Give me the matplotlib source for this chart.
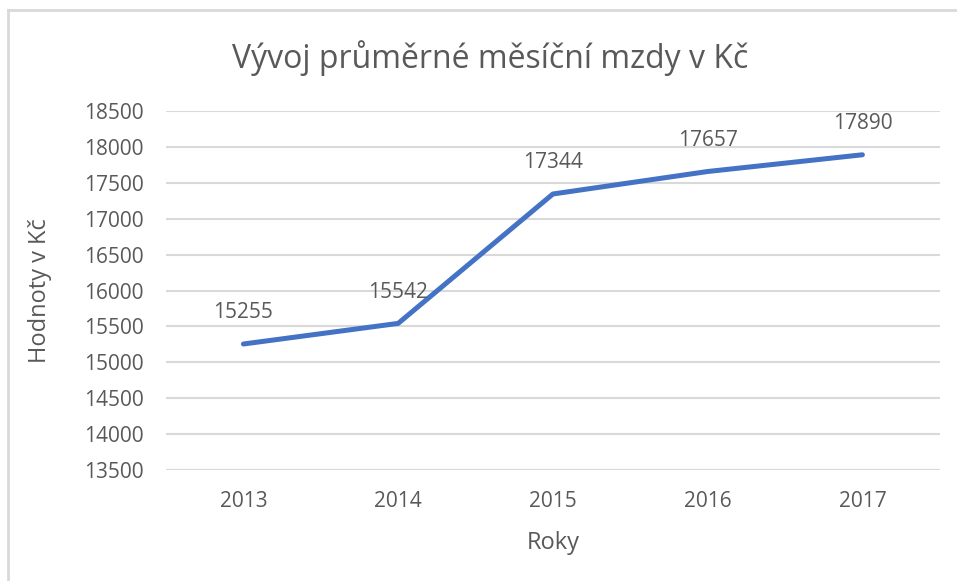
import matplotlib
matplotlib.use("Agg")
import matplotlib.pyplot as plt
from matplotlib.lines import Line2D

years = ["2013", "2014", "2015", "2016", "2017"]
wages = [15255, 15542, 17344, 17657, 17890]
y_ticks = list(range(13500, 18501, 500))

TEXT = "#595959"
GRID = "#D9D9D9"
BLUE = "#4472C4"

plt.rcParams["font.family"] = ["Open Sans", "DejaVu Sans"]

fig = plt.figure(figsize=(9.57, 5.81), dpi=100)
ax = fig.add_axes([0.1735, 0.191, 0.8085, 0.618])

x = list(range(len(years)))
ax.plot(x, wages, color=BLUE, linewidth=3.6, solid_capstyle="round",
        solid_joinstyle="round", zorder=3)

for xi, v in zip(x, wages):
    ax.annotate(str(v), (xi, v), xytext=(0, 15), textcoords="offset points",
                ha="center", va="bottom", fontsize=15, color=TEXT)

ax.set_xlim(-0.5, len(years) - 0.5)
ax.set_ylim(y_ticks[0], y_ticks[-1])
ax.set_xticks(x)
ax.set_xticklabels(years)
ax.set_yticks(y_ticks)
ax.grid(axis="y", color=GRID, linewidth=1.5)
ax.set_axisbelow(True)
for s in ax.spines.values():
    s.set_visible(False)
ax.axhline(y_ticks[0], color=GRID, linewidth=1.5, zorder=1)
ax.tick_params(axis="both", length=0, labelsize=15, labelcolor=TEXT)
ax.tick_params(axis="x", pad=15)
ax.tick_params(axis="y", pad=16)

ax.set_xlabel("Roky", fontsize=17, color=TEXT, labelpad=14)
ax.set_ylabel("Hodnoty v Kč", fontsize=17, color=TEXT, labelpad=23)
fig.text(0.512, 0.900, "Vývoj průměrné měsíční mzdy v Kč", ha="center",
         va="center", fontsize=23, color=TEXT)

# chart frame (only top and left edges are visible in the crop)
fig.add_artist(Line2D([0.0084, 1.0], [0.983, 0.983], color=GRID, linewidth=2,
                      transform=fig.transFigure))
fig.add_artist(Line2D([0.0084, 0.0084], [0.0, 0.983], color=GRID, linewidth=2,
                      transform=fig.transFigure))

fig.savefig("out.png", dpi=100)
